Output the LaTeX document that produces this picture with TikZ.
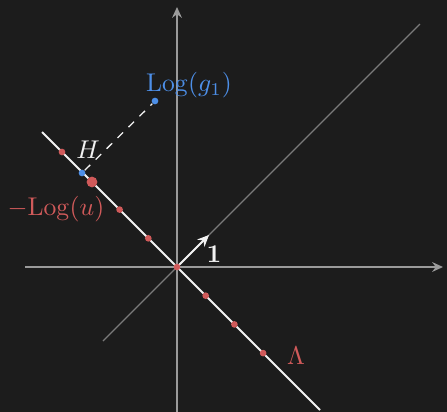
\documentclass[tikz,border=0pt]{standalone}
\usetikzlibrary{arrows.meta}
\definecolor{bg}{HTML}{1C1C1C}
\definecolor{axisgray}{HTML}{9A9A9A}
\definecolor{diaggray}{HTML}{7A7A7A}
\definecolor{myred}{HTML}{D05A5A}
\definecolor{myblue}{HTML}{4D8FE8}
\definecolor{mywhite}{HTML}{F2F2F2}
\tikzset{
  axis/.style={axisgray, line width=0.75pt, -{Stealth[length=4.2pt,width=3.8pt]}},
  diag/.style={diaggray, line width=0.45pt},
  lattice/.style={mywhite, line width=0.8pt},
  reddot/.style={circle, fill=myred, inner sep=0pt, minimum size=2.6pt},
  bigreddot/.style={circle, fill=myred, inner sep=0pt, minimum size=4.2pt},
  bluedot/.style={circle, fill=myblue, inner sep=0pt, minimum size=2.6pt},
  proj/.style={mywhite, line width=0.5pt, dash pattern=on 3pt off 3pt},
  unitarrow/.style={mywhite, line width=0.8pt, -{Stealth[length=4.5pt,width=4pt]}},
}
\begin{document}
\begin{tikzpicture}[x=0.39pt,y=-0.39pt]
\fill[bg] (0,0) rectangle (447,412);
\useasboundingbox (0,0) rectangle (447,412);
% axes
\coordinate (xl) at (25,267);
\coordinate (xr) at (443,267);
\coordinate (yb) at (177,412);
\coordinate (yt) at (177,7);
\draw[axis] (xl) -- (xr);
\draw[axis] (yb) -- (yt);
% diagonal
\coordinate (dl) at (103,341);
\coordinate (dr) at (420,24);
\draw[diag] (dl) -- (dr);
% lattice line
\coordinate (ll) at (42,132);
\coordinate (lr) at (320,410);
\draw[lattice] (ll) -- (lr);
% unit arrow
\coordinate (O) at (177,267);
\coordinate (U) at (209,235);
\draw[unitarrow] (O) -- (U);
\node[mywhite, font=\bfseries] (one) at (214,254) {$\mathbf{1}$};
% projection
\node[bluedot] (h) at (82,173) {};
\node[bluedot] (g) at (155,101) {};
\draw[proj] (h) -- (g);
% red lattice points
\node[reddot] (p0) at (177,267) {};
\node[reddot] (p1) at (205.7,295.7) {};
\node[reddot] (p2) at (234.4,324.4) {};
\node[reddot] (p3) at (263.1,353.1) {};
\node[reddot] (m1) at (148.3,238.3) {};
\node[reddot] (m2) at (119.6,209.6) {};
\node[bigreddot] (m3) at (92,182) {};
\node[reddot] (m4) at (62,152) {};
% labels
\node[mywhite] (Hl) at (88,150) {$H$};
\node[myblue] (gl) at (189,85) {$\mathrm{Log}(g_1)$};
\node[myred] (ul) at (56,209) {$-\mathrm{Log}(u)$};
\node[myred] (Ll) at (296,356) {$\Lambda$};
\end{tikzpicture}
\end{document}
